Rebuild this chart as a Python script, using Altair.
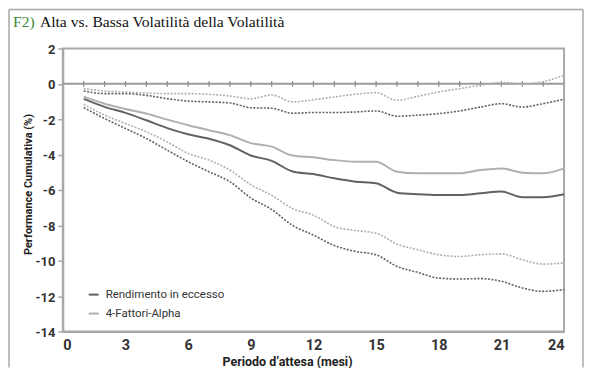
import altair as alt
import pandas as pd

months = list(range(1, 25))

excess_mid = [-0.85, -1.30, -1.64, -2.06, -2.50, -2.85, -3.10, -3.47, -4.05, -4.35, -4.95, -5.10,
              -5.34, -5.53, -5.62, -6.15, -6.24, -6.28, -6.28, -6.19, -6.09, -6.41, -6.41, -6.24]
excess_upper = [-0.40, -0.55, -0.55, -0.65, -0.84, -0.97, -1.02, -1.08, -1.35, -1.38, -1.66, -1.62,
                -1.62, -1.59, -1.53, -1.83, -1.77, -1.68, -1.53, -1.31, -1.12, -1.31, -1.12, -0.87]
excess_lower = [-1.34, -1.96, -2.52, -3.09, -3.75, -4.40, -4.97, -5.53, -6.45, -7.10, -8.00, -8.55,
                -9.14, -9.47, -9.66, -10.32, -10.66, -10.98, -11.03, -11.01, -11.16, -11.54, -11.73, -11.63]
alpha_mid = [-0.72, -1.12, -1.42, -1.68, -2.02, -2.34, -2.62, -2.90, -3.35, -3.55, -4.05, -4.15,
             -4.31, -4.40, -4.40, -4.97, -5.06, -5.06, -5.06, -4.87, -4.78, -5.02, -5.06, -4.78]
alpha_upper = [-0.27, -0.40, -0.46, -0.52, -0.55, -0.55, -0.59, -0.69, -0.84, -0.63, -1.02, -0.90,
               -0.74, -0.59, -0.50, -0.93, -0.70, -0.46, -0.27, -0.08, 0.08, 0.00, 0.12, 0.50]
alpha_lower = [-1.15, -1.77, -2.24, -2.71, -3.28, -3.93, -4.31, -4.87, -5.70, -6.30, -7.05, -7.42,
               -8.07, -8.29, -8.44, -9.06, -9.38, -9.66, -9.76, -9.66, -9.61, -9.94, -10.19, -10.13]

series_names = ["Rendimento in eccesso", "4-Fattori-Alpha"]
series_colors = ["#626262", "#b0b0b0"]
tick_months = list(range(1, 24))
x_ticks = [0, 3, 6, 9, 12, 15, 18, 21, 24]
y_ticks = [-14, -12, -10, -8, -6, -4, -2, 0, 2]

rows = []
for name, parts in [
    (series_names[0], [("mid", excess_mid), ("upper", excess_upper), ("lower", excess_lower)]),
    (series_names[1], [("mid", alpha_mid), ("upper", alpha_upper), ("lower", alpha_lower)]),
]:
    for kind, vals in parts:
        for m, v in zip(months, vals):
            rows.append({"month": m, "value": v, "series": name,
                         "kind": "mid" if kind == "mid" else "band",
                         "line": name + "|" + kind})
df = pd.DataFrame(rows)

LAB_FONT = "Roboto, Liberation Sans, sans-serif"

xscale = alt.Scale(domain=[0, 24], nice=False, zero=False)
yscale = alt.Scale(domain=[-14, 2], nice=False, zero=False)

x_axis = alt.Axis(values=x_ticks, title="Periodo d\u2019attesa (mesi)", ticks=False,
                  labelPadding=7, labelFontSize=14.5, labelFontWeight="bold",
                  titleFontSize=12.5, titleFontWeight="bold", titleX=225, titleY=34,
                  titleBaseline="alphabetic", titleAlign="center")
y_axis = alt.Axis(values=y_ticks, title="Performance Cumulativa (%)", tickSize=5,
                  labelPadding=3, labelFontSize=13, labelFontWeight="bold", labelOffset=1,
                  labelOverlap=False, labelExpr="'' + datum.value",
                  titleFontSize=11, titleFontWeight="bold", titleX=-31, titleY=136,
                  titleBaseline="alphabetic", titleAngle=270, titleAlign="center")


def color_enc():
    return alt.Color(
        "series:N", scale=alt.Scale(domain=series_names, range=series_colors),
        sort=series_names,
        legend=alt.Legend(title=None, orient="none", legendX=25, legendY=241,
                          symbolType="stroke", symbolSize=100, symbolStrokeWidth=2,
                          labelFont=LAB_FONT, labelFontSize=11.5, labelColor="#333",
                          labelOffset=6, rowPadding=7, padding=0))


base = alt.Chart(df)

mid_lines = base.transform_filter(alt.datum.kind == "mid").mark_line(
    strokeWidth=2, interpolate="monotone").encode(
    x=alt.X("month:Q", scale=xscale, axis=x_axis),
    y=alt.Y("value:Q", scale=yscale, axis=y_axis),
    color=color_enc(),
    detail="line:N",
)

band_lines = base.transform_filter(alt.datum.kind == "band").mark_line(
    strokeWidth=1.6, strokeDash=[2, 1.5], interpolate="monotone").encode(
    x=alt.X("month:Q", scale=xscale, axis=x_axis),
    y=alt.Y("value:Q", scale=yscale, axis=y_axis),
    color=color_enc(),
    detail="line:N",
)

zero_df = pd.DataFrame({"y": [0]})
zero_rule = alt.Chart(zero_df).mark_rule(color="#9a9a9a", strokeWidth=2).encode(
    y=alt.Y("y:Q", scale=yscale, axis=y_axis))

tick_df = pd.DataFrame({"month": tick_months, "lo": [-0.16] * len(tick_months),
                        "hi": [0.16] * len(tick_months)})
tick_rules = alt.Chart(tick_df).mark_rule(color="#8a8a8a", strokeWidth=1.2).encode(
    x=alt.X("month:Q", scale=xscale, axis=x_axis),
    y=alt.Y("lo:Q", scale=yscale, axis=y_axis), y2="hi:Q")

one = pd.DataFrame({"a": [0]})
frame_left = alt.Chart(one).mark_rule(color="#a8a8a8", strokeWidth=1.5).encode(
    x=alt.value(-54), y=alt.value(-39), y2=alt.value(320))
frame_top = alt.Chart(one).mark_rule(color="#a8a8a8", strokeWidth=1.5).encode(
    x=alt.value(-54), x2=alt.value(522), y=alt.value(-39))
frame_right = alt.Chart(one).mark_rule(color="#a8a8a8", strokeWidth=1.5).encode(
    x=alt.value(522), y=alt.value(-39), y2=alt.value(320))

title_a = alt.Chart(one).mark_text(align="left", baseline="alphabetic", font="Liberation Serif",
                                   fontSize=15.7, color="#3a8a3a").encode(
    x=alt.value(-50), y=alt.value(-22), text=alt.value("F2)"))
title_b = alt.Chart(one).mark_text(align="left", baseline="alphabetic", font="Liberation Serif",
                                   fontSize=15.7, color="#111111").encode(
    x=alt.value(-23), y=alt.value(-22),
    text=alt.value("Alta vs. Bassa Volatilit\u00e0 della Volatilit\u00e0"))

chart = alt.layer(
    zero_rule, tick_rules, band_lines, mid_lines,
    frame_left, frame_top, frame_right, title_a, title_b,
).properties(
    width=503, height=284,
    autosize=alt.AutoSizeParams(type="none"),
    padding={"left": 55, "top": 40, "right": 20, "bottom": 36},
).configure_view(
    stroke="#a8a8a8", strokeWidth=2
).configure_axis(
    grid=False, domainColor="#a8a8a8", domainWidth=2, tickColor="#a8a8a8", tickWidth=1.5,
    labelColor="#333333", titleColor="#222222", labelFont=LAB_FONT, titleFont=LAB_FONT,
)

chart.save("out.html", embed_options={"renderer": "svg", "actions": False})
